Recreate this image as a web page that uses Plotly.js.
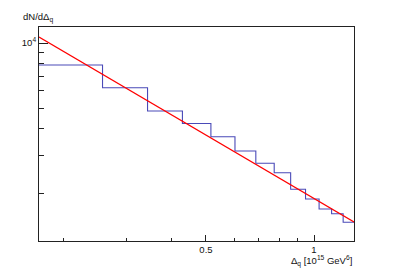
<!DOCTYPE html>
<html>
<head>
<meta charset="utf-8">
<script src="https://cdn.plot.ly/plotly-3.0.1.min.js"></script>
<style>html,body{margin:0;padding:0;background:#fff;}#chart{width:394px;height:268px;}</style>
</head>
<body>
<div id="chart"></div>
<script>
// Histogram bin edges (uniform in linear x) and contents
var binEdges = [0.1713, 0.2575, 0.3437, 0.4299, 0.5161, 0.6023, 0.6885, 0.7747, 0.8609, 0.9471, 1.0333, 1.1195, 1.2057, 1.2926];
var binCounts = [7910, 6210, 4843, 4240, 3683, 3162, 2773, 2509, 2102, 1896, 1704, 1621, 1479];
// Power-law fit line endpoints
var fitX = [0.1713, 1.2926];
var fitY = [10660, 1484];
// Tick definitions
var xMajorTicks = [0.5, 1];
var xMajorLabels = ['0.5', '1'];
var xMinorTicks = [0.2, 0.3, 0.4, 0.6, 0.7, 0.8, 0.9];
var yMajorTicks = [10000];
var yMajorLabels = ['10<sup>4</sup>'];
var yMinorTicks = [2000, 3000, 4000, 5000, 6000, 7000, 8000, 9000];

var histY = binCounts.concat([binCounts[binCounts.length - 1]]);

var traces = [
  {x: binEdges, y: histY, type: 'scatter', mode: 'lines',
   line: {shape: 'hv', color: '#4a4ab8', width: 1.1}, hoverinfo: 'none'},
  {x: fitX, y: fitY, type: 'scatter', mode: 'lines',
   line: {color: '#ff0000', width: 1.3}, hoverinfo: 'none'}
];

var fnt = {family: 'Liberation Sans, Arial, sans-serif', size: 9.5, color: '#111'};

var layout = {
  width: 394, height: 268,
  margin: {l: 39, r: 40, t: 27, b: 27},
  paper_bgcolor: '#fff', plot_bgcolor: '#fff',
  showlegend: false,
  font: fnt,
  xaxis: {
    type: 'log',
    range: [Math.log10(0.1713), Math.log10(1.2926)],
    showline: true, mirror: true, linecolor: '#222', linewidth: 1,
    showgrid: false, zeroline: false,
    tickmode: 'array', tickvals: xMajorTicks, ticktext: xMajorLabels,
    ticks: 'inside', ticklen: 6, tickcolor: '#222', tickwidth: 1,
    tickfont: fnt,
    minor: {tickmode: 'array', tickvals: xMinorTicks, ticks: 'inside', ticklen: 3, tickcolor: '#222', tickwidth: 1, showgrid: false}
  },
  yaxis: {
    type: 'log',
    range: [3.0833, 4.0741],
    showline: true, mirror: true, linecolor: '#222', linewidth: 1,
    showgrid: false, zeroline: false,
    tickmode: 'array', tickvals: yMajorTicks, ticktext: yMajorLabels,
    ticks: 'inside', ticklen: 9, tickcolor: '#222', tickwidth: 1,
    tickfont: fnt,
    minor: {tickmode: 'array', tickvals: yMinorTicks, ticks: 'inside', ticklen: 5, tickcolor: '#222', tickwidth: 1, showgrid: false}
  },
  annotations: [
    {text: 'dN/dΔ<sub>q</sub>', xref: 'paper', yref: 'paper', x: (55 - 39) / 315, y: 1 + 10 / 214,
     xanchor: 'right', yanchor: 'middle', showarrow: false, font: fnt},
    {text: 'Δ<sub>q</sub> [10<sup>15</sup> GeV<sup>6</sup>]', xref: 'paper', yref: 'paper', x: 1, y: -20 / 214,
     xanchor: 'right', yanchor: 'middle', showarrow: false, font: fnt}
  ]
};

Plotly.newPlot('chart', traces, layout, {staticPlot: true, displayModeBar: false});
</script>
</body>
</html>
